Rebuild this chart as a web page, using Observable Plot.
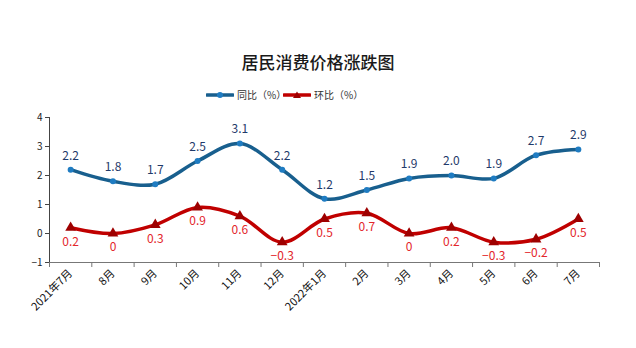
<!DOCTYPE html>
<html>
<head>
<meta charset="utf-8">
<script src="https://cdn.jsdelivr.net/npm/d3@7"></script>
<script src="https://cdn.jsdelivr.net/npm/@observablehq/plot@0.6"></script>
<style>
  html, body { margin: 0; padding: 0; background: #fff; }
  body { width: 636px; height: 348px; overflow: hidden; font-family: "Noto Sans CJK SC", "Noto Sans", sans-serif; }
  #header { position: relative; width: 636px; height: 105px; }
  #title { position: absolute; left: 0; width: 636px; top: 51px; text-align: center; font-size: 17px; line-height: 22px; color: #1a1a1a; font-weight: 500; }
  #legend { position: absolute; top: 88px; left: 0; width: 636px; height: 14px; font-size: 10px; line-height: 14px; color: #333; }
  .item { position: absolute; top: 0; display: flex; align-items: center; }
  .item svg { margin-right: 3px; }
</style>
</head>
<body>
<div id="header">
  <div id="title">居民消费价格涨跌图</div>
  <div id="legend"></div>
</div>
<div id="chart"></div>
<script>
const months = ["2021年7月","8月","9月","10月","11月","12月","2022年1月","2月","3月","4月","5月","6月","7月"];
const yoy = [2.2, 1.8, 1.7, 2.5, 3.1, 2.2, 1.2, 1.5, 1.9, 2.0, 1.9, 2.7, 2.9];
const mom = [0.2, 0, 0.3, 0.9, 0.6, -0.3, 0.5, 0.7, 0, 0.2, -0.3, -0.2, 0.5];
const seriesNames = ["同比（%）", "环比（%）"];
const yTicks = [-1, 0, 1, 2, 3, 4];

const blueLine = "#185f8e", blueDot = "#1f7cc2", blueText = "#1f3a6a";
const redLine = "#c00000", redDot = "#9e0000", redText = "#e3262b";

const idx = d3.range(months.length);
const rows = idx.map(i => ({i, month: months[i], yoy: yoy[i], mom: mom[i]}));
const fmt = v => v === 0 ? "0" : v.toFixed(1).replace("-", "−");
const edges = d3.range(months.length + 1).map(k => k - 0.5);

// legend
const legend = document.getElementById("legend");
const legendDefs = [
  {name: seriesNames[0], color: blueLine, dot: blueDot, shape: "circle", left: 206},
  {name: seriesNames[1], color: redLine, dot: redDot, shape: "triangle", left: 283}
];
for (const d of legendDefs) {
  const item = document.createElement("div");
  item.className = "item";
  item.style.left = d.left + "px";
  const marker = d.shape === "circle"
    ? `<circle cx="14" cy="7" r="3" fill="${d.dot}"/>`
    : `<path d="M14,3.5 L18,10 L10,10 Z" fill="${d.dot}"/>`;
  item.innerHTML = `<svg width="28" height="14"><line x1="1" x2="27" y1="7" y2="7" stroke="${d.color}" stroke-width="3.5" stroke-linecap="round"/>${marker}</svg><span>${d.name}</span>`;
  legend.appendChild(item);
}

const chart = Plot.plot({
  width: 636,
  height: 243,
  marginTop: 12,
  marginBottom: 86,
  marginLeft: 49,
  marginRight: 37,
  style: {fontSize: "10px", fontFamily: "'Noto Sans CJK SC', 'Noto Sans', sans-serif", color: "#222", background: "#fff"},
  x: {type: "linear", domain: [-0.5, months.length - 0.5]},
  y: {domain: [-1, 4]},
  marks: [
    Plot.ruleX([-0.5], {y1: -1, y2: 4, stroke: "#444", strokeWidth: 1}),
    Plot.ruleY([-1], {stroke: "#777", strokeWidth: 1.2}),
    Plot.axisY({ticks: yTicks, tickSize: 4, tickPadding: 3, tickFormat: d => String(d).replace("-", "−"), label: null, stroke: "#444", fill: "#222"}),
    Plot.axisX({ticks: edges, tickSize: 5, tickFormat: () => "", label: null, stroke: "#777"}),
    Plot.axisX({ticks: idx, tickSize: 0, tickPadding: 9, tickRotate: -45, tickFormat: i => months[i], label: null, fontSize: 11, fill: "#111"}),
    Plot.line(rows, {x: "i", y: "yoy", curve: "catmull-rom", stroke: blueLine, strokeWidth: 3.5}),
    Plot.line(rows, {x: "i", y: "mom", curve: "catmull-rom", stroke: redLine, strokeWidth: 3.5}),
    Plot.dot(rows, {x: "i", y: "yoy", r: 3, fill: blueDot, symbol: "circle"}),
    Plot.dot(rows, {x: "i", y: "mom", r: 4, fill: redDot, symbol: "triangle"}),
    Plot.text(rows, {x: "i", y: "yoy", text: d => fmt(d.yoy), dy: -14, fill: blueText, fontSize: 12, letterSpacing: "2px"}),
    Plot.text(rows, {x: "i", y: "mom", text: d => fmt(d.mom), dy: 14, fill: redText, fontSize: 12, letterSpacing: "2px"})
  ]
});
document.getElementById("chart").appendChild(chart);
</script>
</body>
</html>
